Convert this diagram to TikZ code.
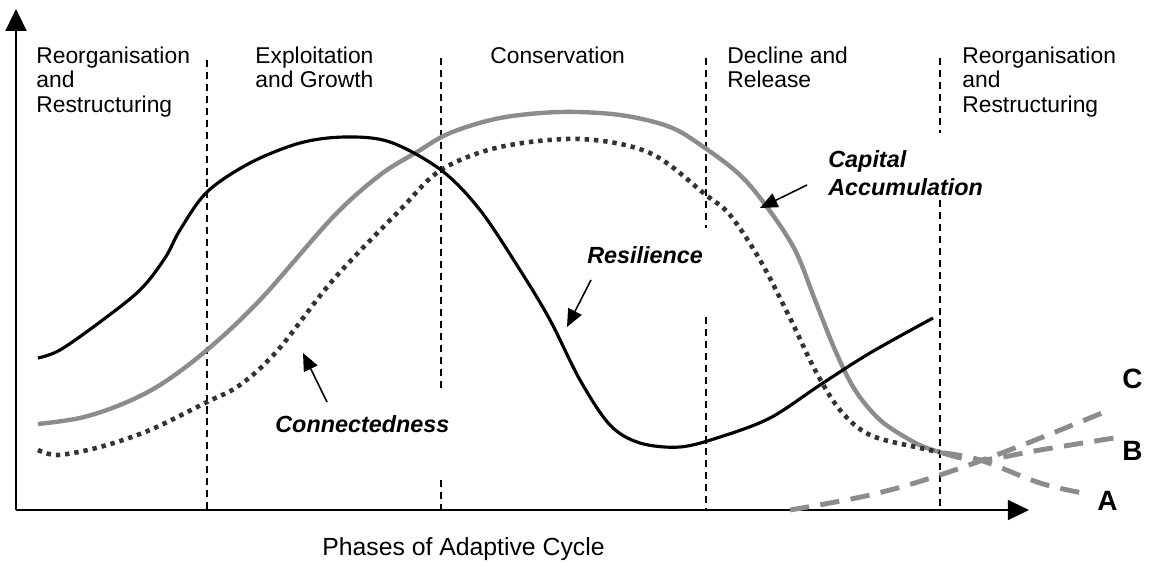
\documentclass[tikz,border=0pt]{standalone}
\usepackage{fontspec}
\setmainfont{Liberation Sans}
\usetikzlibrary{arrows.meta}
\definecolor{cgray}{HTML}{8C8C8C}
\definecolor{cdark}{HTML}{333333}
\tikzset{
  axisline/.style={line width=1.1pt, black},
  phaseline/.style={line width=0.8pt, black, dash pattern=on 4pt off 2.8pt},
  resil/.style={line width=1.8pt, black},
  capital/.style={line width=2.5pt, cgray},
  connect/.style={line width=2.6pt, cdark, dash pattern=on 2.5pt off 2.8pt},
  future/.style={line width=2.8pt, cgray, dash pattern=on 11pt off 6.5pt},
  pointer/.style={line width=0.9pt, black, -{Triangle[length=10pt,width=8.5pt]}},
  phasetext/.style={anchor=north west, inner sep=0pt, align=left,
    font=\fontsize{13}{13.9}\selectfont},
  curvetext/.style={anchor=north west, inner sep=0pt, align=left,
    font=\fontsize{13.3}{15.9}\selectfont\bfseries\itshape},
  lettertext/.style={anchor=base west, inner sep=0pt,
    font=\fontsize{15.9}{18}\selectfont\bfseries},
}
\begin{document}
\begin{tikzpicture}[x=0.02cm, y=-0.02cm]
\useasboundingbox (0,0) rectangle (1150,565);
% axes
\coordinate (O) at (16,510);
\coordinate (Ytop) at (16,9);
\coordinate (Xend) at (1029,510);
\draw[axisline, -{Triangle[length=12.5pt,width=12pt]}] (O) -- (Ytop);
\draw[axisline, -{Triangle[length=12pt,width=11.3pt]}] (O) -- (Xend);
% phase separators
\draw[phaseline] (207,60) -- (207,510);
\draw[phaseline] (441,58) -- (441,390) (441,480) -- (441,510);
\draw[phaseline] (706,58) -- (706,228) (706,317) -- (706,510);
\draw[phaseline] (940,58) -- (940,133) (940,200) -- (940,510);
% phase labels
\node[phasetext] (p1) at (36,46.5) {Reorganisation\\and\\Restructuring};
\node[phasetext] (p2) at (255,46.5) {Exploitation\\and Growth};
\node[phasetext] (p3) at (490,46.5) {Conservation};
\node[phasetext] (p4) at (727,46.5) {Decline and\\Release};
\node[phasetext] (p5) at (962,46.5) {Reorganisation\\and\\Restructuring};
% capital accumulation
\draw[capital] plot[smooth, tension=0.55] coordinates {(38,424) (80,418) (120,405) (160,385) (207,350) (260,300) (333,217) (380,175) (417,152) (450,133) (500,118) (560,112) (620,115) (670,127) (705,148) (740,175) (767,207) (795,250) (815,300) (835,350) (855,390) (880,420) (910,440) (927,448) (943,453)};
% connectedness
\draw[connect] plot[smooth, tension=0.55] coordinates {(38,450) (58,455) (100,447) (150,430) (207,402) (240,385) (278,350) (333,280) (400,210) (441,170) (500,147) (580,139) (650,153) (706,195) (730,215) (760,260) (790,318) (815,370) (840,410) (870,435) (920,448) (940,452)};
% resilience
\draw[resil] plot[smooth, tension=0.55] coordinates {(38,358) (60,350) (100,322) (140,290) (165,258) (180,230) (207,192) (250,163) (300,143) (345,137) (390,142) (441,170) (480,210) (520,270) (550,320) (580,380) (610,425) (640,443) (680,447) (720,437) (770,418) (820,385) (870,353) (933,318)};
% future trajectories
\draw[future] plot[smooth, tension=0.6] coordinates {(790,510) (870,495) (940,475) (1020,446) (1102,413)};
\draw[future] plot[smooth, tension=0.6] coordinates {(943,453) (980,460) (1040,450) (1120,437)};
\draw[future] plot[smooth, tension=0.6] coordinates {(943,453) (980,460) (1040,483) (1083,493)};
% curve labels
\node[curvetext] (cap) at (828,150) {Capital\\Accumulation};
\node[curvetext] (res) at (587,246) {Resilience};
\node[curvetext] (con) at (275,415) {Connectedness};
\coordinate (capS) at (807,185);
\coordinate (capT) at (760,208);
\coordinate (resS) at (591,280);
\coordinate (resT) at (567,327);
\coordinate (conS) at (327,402);
\coordinate (conT) at (303,353);
\draw[pointer] (capS) -- (capT);
\draw[pointer] (resS) -- (resT);
\draw[pointer] (conS) -- (conT);
% letters
\node[lettertext] (C) at (1122,388) {C};
\node[lettertext] (B) at (1122,460) {B};
\node[lettertext] (A) at (1097,510) {A};
% axis title
\node[anchor=base west, inner sep=0pt, font=\fontsize{14.1}{17}\selectfont] (xt) at (322,555) {Phases of Adaptive Cycle};
\end{tikzpicture}
\end{document}
